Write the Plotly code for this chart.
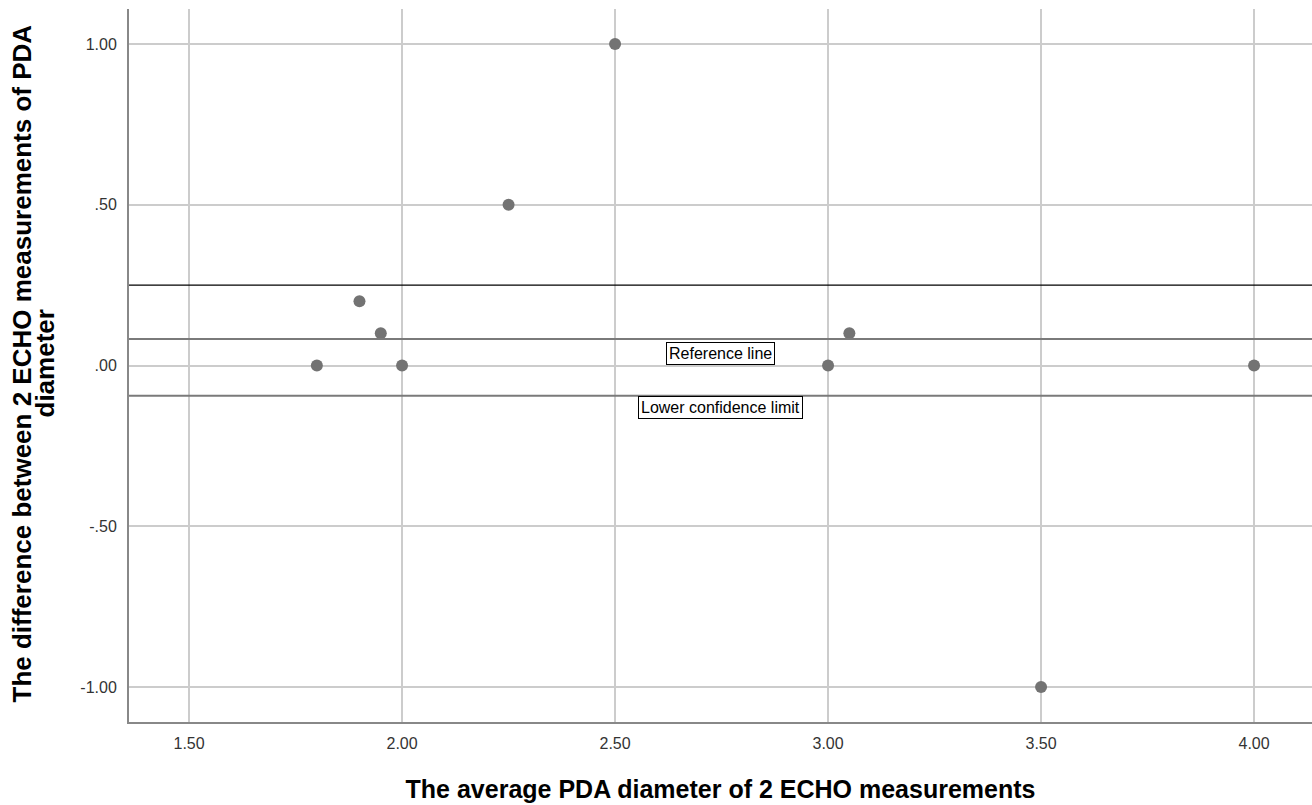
import plotly.graph_objects as go

avg = [1.80, 1.90, 1.95, 2.00, 2.25, 2.50, 3.00, 3.05, 3.50, 4.00]
diff = [0.00, 0.20, 0.10, 0.00, 0.50, 1.00, 0.00, 0.10, -1.00, 0.00]

upper_limit = 0.25
reference = 0.0825
lower_limit = -0.094

x_ticks = [1.5, 2.0, 2.5, 3.0, 3.5, 4.0]
x_tick_text = ["1.50", "2.00", "2.50", "3.00", "3.50", "4.00"]
y_ticks = [-1.0, -0.5, 0.0, 0.5, 1.0]
y_tick_text = ["-1.00", "-.50", ".00", ".50", "1.00"]

y_title_lines = ["The difference between 2 ECHO measurements of PDA", "diameter"]
x_title = "The average PDA diameter of 2 ECHO measurements"

x_range = [1.359, 4.136]
y_range = [-1.109, 1.109]

fig = go.Figure()

fig.add_hline(y=upper_limit, line=dict(color="#000000", width=1.3), layer="above")
fig.add_hline(y=reference, line=dict(color="#7a7a7a", width=2), layer="above")
fig.add_hline(y=lower_limit, line=dict(color="#7a7a7a", width=2), layer="above")

fig.add_trace(go.Scatter(
    x=avg, y=diff, mode="markers",
    marker=dict(size=12, color="#737373"),
    showlegend=False, cliponaxis=False,
))

mid_x = (x_range[0] + x_range[1]) / 2
fig.add_annotation(x=mid_x, y=reference, yshift=-15, text="Reference line",
                   showarrow=False, font=dict(family="Arial", size=16, color="#000"),
                   bgcolor="white", bordercolor="#000", borderwidth=1, borderpad=2)
fig.add_annotation(x=mid_x, y=lower_limit, yshift=-12, text="Lower confidence limit",
                   showarrow=False, font=dict(family="Arial", size=16, color="#000"),
                   bgcolor="white", bordercolor="#000", borderwidth=1, borderpad=2)

# Y axis title as two rotated lines (tight line spacing as in reference)
for line, xs in zip(y_title_lines, [-108, -85]):
    fig.add_annotation(xref="paper", yref="paper", x=0, y=0.5, xshift=xs, yshift=2,
                       text="<b>" + line + "</b>", textangle=-90, showarrow=False,
                       xanchor="center", yanchor="middle",
                       font=dict(family="Arial", size=26, color="#000"))

fig.update_layout(
    width=1312, height=805,
    margin=dict(l=129, r=0, t=9, b=83),
    plot_bgcolor="white", paper_bgcolor="white",
    font=dict(family="Arial", size=16, color="#333"),
    xaxis=dict(
        range=x_range, tickvals=x_ticks, ticktext=x_tick_text,
        showgrid=True, gridcolor="#cccccc", gridwidth=1.5,
        showline=True, linecolor="#888888", linewidth=2,
        zeroline=False, ticks="", ticklabelstandoff=6,
        tickfont=dict(family="Arial", size=16, color="#333"),
        title=dict(text="<b>" + x_title + "</b>",
                   font=dict(family="Arial", size=25, color="#000"), standoff=29),
    ),
    yaxis=dict(
        range=y_range, tickvals=y_ticks, ticktext=y_tick_text,
        showgrid=True, gridcolor="#cccccc", gridwidth=1.5,
        showline=True, linecolor="#888888", linewidth=2,
        zeroline=False, ticks="", ticklabelstandoff=7,
        tickfont=dict(family="Arial", size=16, color="#333"),
    ),
)

fig.write_html("out.html")
